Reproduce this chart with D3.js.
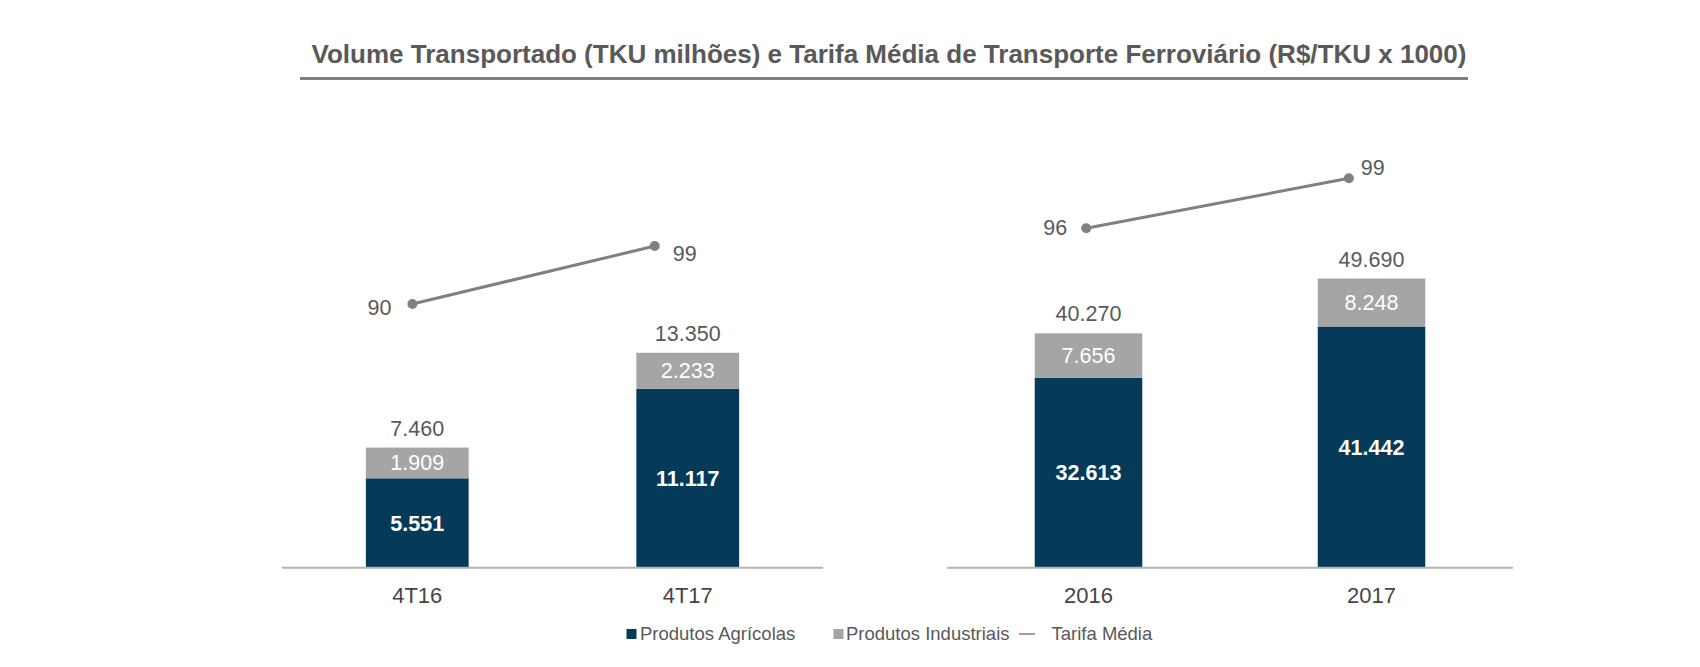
<!DOCTYPE html>
<html>
<head>
<meta charset="utf-8">
<script src="https://cdn.jsdelivr.net/npm/d3@7"></script>
<style>
  html, body { margin: 0; padding: 0; background: #ffffff; }
  svg { display: block; font-family: "Liberation Sans", Arial, sans-serif; }
</style>
</head>
<body>
<svg id="chart" width="1700" height="667"></svg>
<script>
// ---------- DATA ----------
const title = "Volume Transportado (TKU milhões) e Tarifa Média de Transporte Ferroviário (R$/TKU x 1000)";
const quarterCategories = ["4T16", "4T17"];
const quarterAgricolas = [5551, 11117];
const quarterIndustriais = [1909, 2233];
const quarterTotais = [7460, 13350];
const quarterTarifa = [90, 99];

const yearCategories = ["2016", "2017"];
const yearAgricolas = [32613, 41442];
const yearIndustriais = [7656, 8248];
const yearTotais = [40270, 49690];
const yearTarifa = [96, 99];

const legendLabels = ["Produtos Agrícolas", "Produtos Industriais", "Tarifa Média"];

// ---------- STYLE / LAYOUT ----------
const colNavy = "#053a58";
const colGray = "#a5a5a5";
const colLine = "#808080";
const colText = "#595959";
const fmt = v => d3.format(",")(v).replace(/,/g, ".");

const svg = d3.select("#chart");
const baseY = 567.7;

const panels = [
  { cats: quarterCategories, agr: quarterAgricolas, ind: quarterIndustriais, tot: quarterTotais, tar: quarterTarifa,
    x0: 282, x1: 823, yMax: 20000, yTop: 245.7,
    lineDomain: [50, 100], lineRange: [561.6, 239.6], lineFrac: [0.241, 0.689],
    lbl: [{dx: -21, dy: 3}, {dx: 18, dy: 7}] },
  { cats: yearCategories, agr: yearAgricolas, ind: yearIndustriais, tot: yearTotais, tar: yearTarifa,
    x0: 947, x1: 1513, yMax: 60000, yTop: 218.5,
    lineDomain: [90, 100], lineRange: [328.3, 161.6], lineFrac: [0.246, 0.710],
    lbl: [{dx: -19, dy: -1}, {dx: 12, dy: -11}] }
];

// ---------- TITLE ----------
svg.append("text")
  .attr("x", 889).attr("y", 63)
  .attr("text-anchor", "middle")
  .attr("font-size", 26).attr("font-weight", "bold")
  .attr("fill", colText)
  .text(title);
svg.append("line")
  .attr("x1", 300).attr("x2", 1468).attr("y1", 78.5).attr("y2", 78.5)
  .attr("stroke", "#808080").attr("stroke-width", 3);

// ---------- PANELS ----------
panels.forEach(p => {
  const x = d3.scaleBand().domain(p.cats).range([p.x0, p.x1]).paddingInner(0.62).paddingOuter(0.31);
  const y = d3.scaleLinear().domain([0, p.yMax]).range([baseY, p.yTop]);
  const W = p.x1 - p.x0;
  const xl = d3.scalePoint().domain(p.cats).range([p.x0 + p.lineFrac[0] * W, p.x0 + p.lineFrac[1] * W]);
  const yl = d3.scaleLinear().domain(p.lineDomain).range(p.lineRange);

  const g = svg.append("g");
  const rows = p.cats.map((c, i) => ({ c, agr: p.agr[i], ind: p.ind[i], tot: p.tot[i], tar: p.tar[i], i }));

  // bars
  g.selectAll(".agr").data(rows).join("rect")
    .attr("x", d => x(d.c)).attr("width", x.bandwidth())
    .attr("y", d => y(d.agr)).attr("height", d => y(0) - y(d.agr))
    .attr("fill", colNavy);
  g.selectAll(".ind").data(rows).join("rect")
    .attr("x", d => x(d.c)).attr("width", x.bandwidth())
    .attr("y", d => y(d.agr + d.ind)).attr("height", d => y(d.agr) - y(d.agr + d.ind))
    .attr("fill", colGray);

  // axis
  const axis = d3.axisBottom(x).tickSize(0).tickPadding(20);
  const ag = g.append("g").attr("transform", `translate(0,${baseY})`).call(axis);
  ag.select(".domain").attr("stroke", "#b3b3b3").attr("stroke-width", 2).attr("d", `M${p.x0},0H${p.x1}`);
  ag.selectAll("text").attr("font-size", 22).attr("fill", "#454545")
    .attr("font-family", "\"Liberation Sans\", Arial, sans-serif").attr("dy", "0.71em");

  // segment labels
  g.selectAll(".lagr").data(rows).join("text")
    .attr("x", d => x(d.c) + x.bandwidth() / 2)
    .attr("y", d => (y(0) + y(d.agr)) / 2).attr("dy", "0.35em")
    .attr("text-anchor", "middle").attr("font-size", 21.5).attr("font-weight", "bold")
    .attr("fill", "#ffffff").text(d => fmt(d.agr));
  g.selectAll(".lind").data(rows).join("text")
    .attr("x", d => x(d.c) + x.bandwidth() / 2)
    .attr("y", d => (y(d.agr) + y(d.agr + d.ind)) / 2).attr("dy", "0.35em")
    .attr("text-anchor", "middle").attr("font-size", 21.5)
    .attr("fill", "#ffffff").text(d => fmt(d.ind));
  g.selectAll(".ltot").data(rows).join("text")
    .attr("x", d => x(d.c) + x.bandwidth() / 2)
    .attr("y", d => y(d.tot) - 12)
    .attr("text-anchor", "middle").attr("font-size", 21.5)
    .attr("fill", colText).text(d => fmt(d.tot));

  // line
  const line = d3.line().x(d => xl(d.c)).y(d => yl(d.tar));
  g.append("path").datum(rows).attr("d", line)
    .attr("fill", "none").attr("stroke", colLine).attr("stroke-width", 3);
  g.selectAll(".dot").data(rows).join("circle")
    .attr("cx", d => xl(d.c)).attr("cy", d => yl(d.tar)).attr("r", 5)
    .attr("fill", colLine);
  g.selectAll(".ltar").data(rows).join("text")
    .attr("x", d => xl(d.c) + p.lbl[d.i].dx)
    .attr("y", d => yl(d.tar) + p.lbl[d.i].dy).attr("dy", "0.35em")
    .attr("text-anchor", d => d.i === 0 ? "end" : "start")
    .attr("font-size", 21.5).attr("fill", colText)
    .text(d => d.tar);
});

// ---------- LEGEND ----------
const legY = 634;
const lg = svg.append("g").attr("font-size", 18.5).attr("fill", colText);
const legendItems = [
  { label: legendLabels[0], type: "rect", color: colNavy, mx: 626.5, tx: 640 },
  { label: legendLabels[1], type: "rect", color: colGray, mx: 833.5, tx: 846 },
  { label: legendLabels[2], type: "line", color: "#7f7f7f", mx: 1019, tx: 1051.5 }
];
legendItems.forEach(it => {
  if (it.type === "rect") {
    lg.append("rect").attr("x", it.mx).attr("y", legY - 5).attr("width", 10).attr("height", 10).attr("fill", it.color);
  } else {
    lg.append("line").attr("x1", it.mx).attr("x2", it.mx + 16).attr("y1", legY).attr("y2", legY)
      .attr("stroke", it.color).attr("stroke-width", 1.5);
  }
  lg.append("text").attr("x", it.tx).attr("y", legY).attr("dy", "0.35em").text(it.label);
});
</script>
</body>
</html>
